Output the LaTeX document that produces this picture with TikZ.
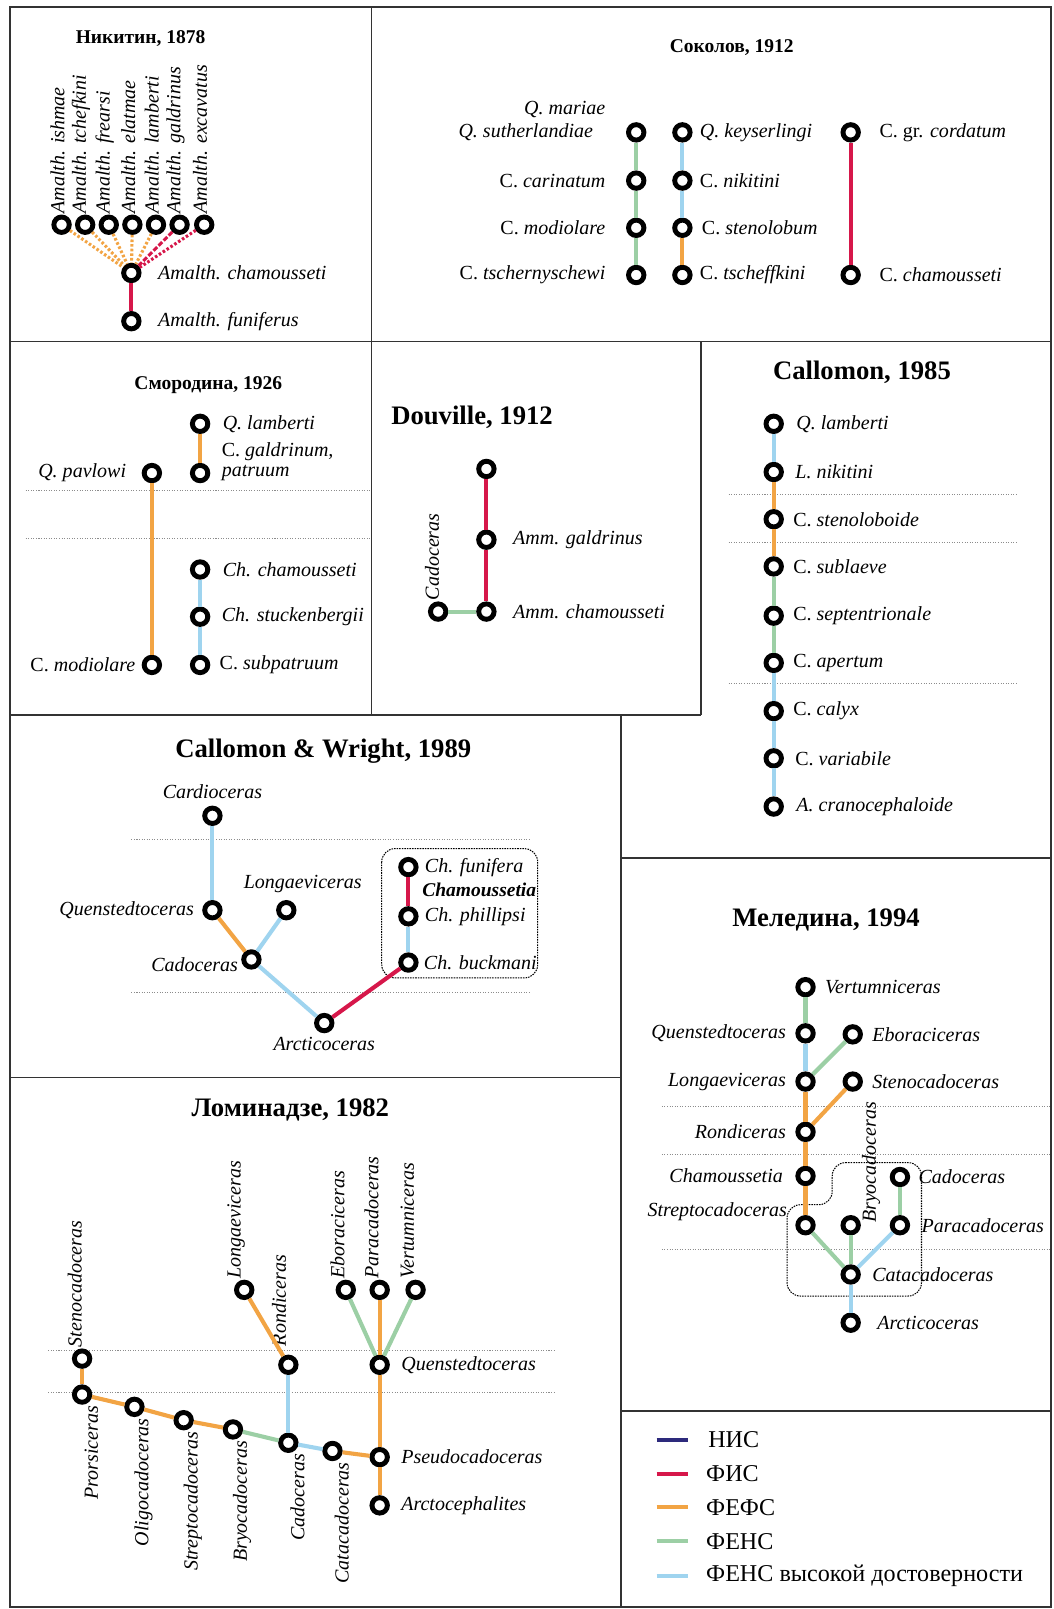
\documentclass[tikz,border=0pt]{standalone}
\usepackage{fontspec}
\setmainfont{Liberation Serif}
\definecolor{cnis}{HTML}{2D2A7C}
\definecolor{cfis}{HTML}{D6174A}
\definecolor{cfefs}{HTML}{F2A444}
\definecolor{cfens}{HTML}{9CCFA5}
\definecolor{cfensv}{HTML}{9FD4EF}
\begin{document}
\begin{tikzpicture}[x=1pt,y=-1pt,
  st/.style={circle,draw=black,line width=4.8pt,fill=white,minimum size=15pt,inner sep=0pt},
  lab/.style={font=\fontsize{19.5}{21}\selectfont\itshape,inner sep=1pt},
  every label/.style={lab},
  label distance=8pt,
  up/.style={rotate=90,anchor=west},
  dn/.style={rotate=90,anchor=east},
  title/.style={font=\fontsize{26}{29}\selectfont\bfseries},
  stitle/.style={font=\fontsize{19}{21}\selectfont\bfseries},
  nis/.style={draw=cnis,line width=4pt},
  fis/.style={draw=cfis,line width=4pt},
  fefs/.style={draw=cfefs,line width=4pt},
  fens/.style={draw=cfens,line width=4pt},
  fensv/.style={draw=cfensv,line width=4pt},
  frame/.style={draw=black!80,line width=1.5pt},
  sep/.style={draw=black!45,line width=0.8pt,dash pattern=on 1pt off 1.5pt},
  box/.style={draw=black,line width=1pt,dash pattern=on 1.5pt off 1pt,rounded corners=13pt}]

\useasboundingbox (0,0) rectangle (1027,1568);

\draw[frame] (10,7) rectangle (1024,1566);
\draw[frame] (362,7) -- (362,697);
\draw[frame] (10,333) -- (1024,333);
\draw[frame] (683,333) -- (683,697);
\draw[frame] (10,697) -- (683,697);
\draw[frame] (605,697) -- (605,1566);
\draw[frame] (605,836) -- (1024,836);
\draw[frame] (10,1050) -- (605,1050);
\draw[frame] (605,1375) -- (1024,1375);

\node[stitle] (nikt) at (137,38) {Никитин, 1878};
\foreach \x/\n/\t in {60/n1/ishmae,83/n2/tchefkini,106/n3/frearsi,129/n4/elatmae,152/n5/lamberti,175/n6/galdrinus,199/n7/excavatus}
  \node[st,label={[up,label distance=4pt]above:Amalth. \t}] (\n) at (\x,219) {};
\node[st,label={[label distance=15pt]right:Amalth. chamousseti}] (nch) at (128,266) {};
\node[st,label={[label distance=15pt]right:Amalth. funiferus}] (nfu) at (128,313) {};
\path (nch) edge[fis] (nfu);
\foreach \n in {n1,n2,n3,n4,n5}
  \path (\n) edge[fefs,line width=3pt,dash pattern=on 2.5pt off 2pt] (nch);
\path (n6) edge[fis,line width=3pt,dash pattern=on 5pt off 2pt] (nch)
      (n7) edge[fis,line width=3pt,dash pattern=on 2.5pt off 2pt] (nch);

\node[stitle] (sokt) at (713,46) {Соколов, 1912};
\node[st,label={[label distance=31pt]left:Q. sutherlandiae},label={[label distance=19pt,yshift=22pt]left:Q. mariae}] (s11) at (620,129) {};
\node[st,label={[label distance=19pt]left:\textup{C.} carinatum}] (s12) at (620,176) {};
\node[st,label={[label distance=19pt]left:\textup{C.} modiolare}] (s13) at (620,222) {};
\node[st,label={[label distance=19pt]left:\textup{C.} tschernyschewi}] (s14) at (620,268) {};
\node[st,label={[label distance=6pt]right:Q. keyserlingi}] (s21) at (665,129) {};
\node[st,label={[label distance=6pt]right:\textup{C.} nikitini}] (s22) at (665,176) {};
\node[st,label={[label distance=8pt]right:\textup{C.} stenolobum}] (s23) at (665,222) {};
\node[st,label={[label distance=6pt]right:\textup{C.} tscheffkini}] (s24) at (665,268) {};
\node[st,label={[label distance=17pt]right:\textup{C.} \textup{gr.} cordatum}] (s31) at (829,129) {};
\node[st,label={[label distance=17pt]right:\textup{C.} chamousseti}] (s34) at (829,268) {};
\path (s11) edge[fens] (s12)
      (s12) edge[fens] (s13)
      (s13) edge[fens] (s14)
      (s21) edge[fensv] (s22)
      (s22) edge[fensv] (s23)
      (s23) edge[fefs] (s24)
      (s31) edge[fis] (s34);

\node[stitle] (smot) at (203,375) {Смородина, 1926};
\draw[sep] (25,478) -- (362,478);
\draw[sep] (25,525) -- (362,525);
\node[st,label={[label distance=11pt]right:Q. lamberti}] (m1) at (195,413) {};
\node[st,label={[label distance=10pt]right:patruum},label={[label distance=10pt,yshift=21pt]right:\textup{C.} galdrinum,}] (m2) at (195,461) {};
\node[st,label={[label distance=14pt]left:Q. pavlowi}] (m3) at (148,461) {};
\node[st,label={[label distance=5pt]left:\textup{C.} modiolare}] (m4) at (148,648) {};
\node[st,label={[label distance=11pt]right:Ch. chamousseti}] (m5) at (195,555) {};
\node[st,label={[label distance=10pt]right:Ch. stuckenbergii}] (m6) at (195,601) {};
\node[st,label={[label distance=8pt]right:\textup{C.} subpatruum}] (m7) at (195,648) {};
\path (m1) edge[fefs] (m2)
      (m3) edge[fefs] (m4)
      (m5) edge[fensv] (m6)
      (m6) edge[fensv] (m7);

\node[title] (dout) at (460,407) {Douville, 1912};
\node[st] (d1) at (474,457) {};
\node[st,label={[label distance=15pt]right:Amm. galdrinus}] (d2) at (474,526) {};
\node[st,label={[label distance=15pt]right:Amm. chamousseti}] (d3) at (474,596) {};
\node[st,label={[up,label distance=6pt]above:Cadoceras}] (d4) at (427,596) {};
\path (d1) edge[fis] (d2)
      (d2) edge[fis] (d3)
      (d4) edge[fens] (d3);

\node[title] (calt) at (840,363) {Callomon, 1985};
\draw[sep] (710,482) -- (992,482);
\draw[sep] (710,529) -- (992,529);
\draw[sep] (710,666) -- (992,666);
\node[st,label={[label distance=11pt]right:Q. lamberti}] (c1) at (754,413) {};
\node[st,label={[label distance=10pt]right:L. nikitini}] (c2) at (754,460) {};
\node[st,label={right:\textup{C.} stenoloboide}] (c3) at (754,506) {};
\node[st,label={right:\textup{C.} sublaeve}] (c4) at (754,552) {};
\node[st,label={right:\textup{C.} septentrionale}] (c5) at (754,600) {};
\node[st,label={right:\textup{C.} apertum}] (c6) at (754,646) {};
\node[st,label={right:\textup{C.} calyx}] (c7) at (754,693) {};
\node[st,label={[label distance=10pt]right:\textup{C.} variabile}] (c8) at (754,739) {};
\node[st,label={[label distance=11pt]right:A. cranocephaloide}] (c9) at (754,786) {};
\path (c1) edge[fensv] (c2)
      (c2) edge[fefs] (c3)
      (c3) edge[fefs] (c4)
      (c4) edge[fens] (c5)
      (c5) edge[fens] (c6)
      (c6) edge[fensv] (c7)
      (c7) edge[fensv] (c8)
      (c8) edge[fensv] (c9);

\node[title] (cwt) at (315,732) {Callomon \& Wright, 1989};
\draw[sep] (128,818) -- (517,818);
\draw[sep] (128,967) -- (517,967);
\draw[box] (372,827) rectangle (524,953);
\node[st,label={[label distance=6pt]above:Cardioceras}] (w1) at (207,795) {};
\node[st,label={[label distance=7pt]left:Quenstedtoceras}] (w2) at (207,887) {};
\node[st,label={[label distance=6pt,xshift=16pt]above:Longaeviceras}] (w3) at (279,887) {};
\node[st,label={[label distance=2pt,yshift=-5pt]left:Cadoceras}] (w4) at (245,935) {};
\node[st,label={[label distance=3pt]below:Arcticoceras}] (w5) at (316,997) {};
\node[st,label={[label distance=5pt]right:Ch. funifera}] (w6) at (398,845) {};
\node[st,label={[label distance=5pt]right:Ch. phillipsi}] (w7) at (398,893) {};
\node[st,label={[label distance=4pt]right:Ch. buckmani}] (w8) at (398,938) {};
\node[lab,font=\fontsize{19}{21}\selectfont\bfseries\itshape] (wch) at (467,867) {Chamoussetia};
\path (w1) edge[fensv] (w2)
      (w2) edge[fefs] (w4)
      (w3) edge[fensv] (w4)
      (w4) edge[fensv] (w5)
      (w5) edge[fis] (w8)
      (w8) edge[fensv] (w7)
      (w7) edge[fis] (w6);

\node[title] (melt) at (805,897) {Меледина, 1994};
\draw[sep] (645,1078) -- (1024,1078);
\draw[sep] (645,1125) -- (1024,1125);
\draw[sep] (645,1218) -- (1024,1218);
\draw[box] (811,1133) -- (898,1133) -- (898,1263) -- (767,1263) -- (767,1174) -- (811,1174) -- cycle;
\node[st,label={right:Vertumniceras}] (e1) at (785,962) {};
\node[st,label={left:Quenstedtoceras}] (e2) at (785,1007) {};
\node[st,label={right:Eboraciceras}] (e3) at (831,1008) {};
\node[st,label={left:Longaeviceras}] (e4) at (785,1054) {};
\node[st,label={right:Stenocadoceras}] (e5) at (831,1054) {};
\node[st,label={left:Rondiceras}] (e6) at (785,1103) {};
\node[st,label={[label distance=11pt]left:Chamoussetia}] (e7) at (785,1146) {};
\node[st,label={[label distance=7pt,yshift=13pt]left:Streptocadoceras}] (e8) at (785,1194) {};
\node[st,label={[rotate=90,anchor=north west,label distance=1pt]right:Bryocadoceras}] (e9) at (829,1194) {};
\node[st,label={[label distance=7pt]right:Cadoceras}] (e10) at (877,1147) {};
\node[st,label={[label distance=10pt]right:Paracadoceras}] (e11) at (877,1194) {};
\node[st,label={[label distance=10pt]right:Catacadoceras}] (e12) at (829,1242) {};
\node[st,label={[label distance=15pt]right:Arcticoceras}] (e13) at (829,1289) {};
\path (e1) edge[fens] (e2)
      (e2) edge[fensv] (e4)
      (e4) edge[fens] (e3)
      (e4) edge[fefs] (e6)
      (e6) edge[fefs] (e5)
      (e6) edge[fefs] (e7)
      (e7) edge[fefs] (e8)
      (e8) edge[fens] (e12)
      (e9) edge[fens] (e12)
      (e11) edge[fensv] (e12)
      (e10) edge[fens] (e11)
      (e12) edge[fensv] (e13);

\node[title] (lomt) at (283,1082) {Ломинадзе, 1982};
\draw[sep] (47,1316) -- (540,1316);
\draw[sep] (47,1357) -- (540,1357);
\node[st,label={[up,label distance=7pt]above:Stenocadoceras}] (l1) at (80,1324) {};
\node[st,label={[dn,label distance=9pt]below:Prorsiceras}] (l2) at (80,1359) {};
\node[st,label={[dn,label distance=9pt]below:Oligocadoceras}] (l3) at (131,1371) {};
\node[st,label={[dn,label distance=9pt]below:Streptocadoceras}] (l4) at (179,1384) {};
\node[st,label={[dn,label distance=9pt]below:Bryocadoceras}] (l5) at (227,1393) {};
\node[st,label={[dn,label distance=9pt]below:Cadoceras}] (l6) at (281,1406) {};
\node[st,label={[dn,label distance=9pt]below:Catacadoceras}] (l7) at (324,1414) {};
\node[st,label={[label distance=10pt]right:Pseudocadoceras}] (l8) at (370,1420) {};
\node[st,label={[label distance=10pt]right:Arctocephalites}] (l9) at (370,1467) {};
\node[st,label={[label distance=10pt]right:Quenstedtoceras}] (l10) at (370,1330) {};
\node[st,label={[up,label distance=9pt,xshift=7pt]above:Rondiceras}] (l11) at (281,1330) {};
\node[st,label={[up,label distance=8pt]above:Longaeviceras}] (l12) at (238,1257) {};
\node[st,label={[up,label distance=8pt]above:Eboraciceras}] (l13) at (337,1257) {};
\node[st,label={[up,label distance=8pt]above:Paracadoceras}] (l14) at (370,1257) {};
\node[st,label={[up,label distance=8pt]above:Vertumniceras}] (l15) at (405,1257) {};
\path (l1) edge[fefs] (l2)
      (l2) edge[fefs] (l3)
      (l3) edge[fefs] (l4)
      (l4) edge[fefs] (l5)
      (l5) edge[fens] (l6)
      (l6) edge[fensv] (l7)
      (l7) edge[fefs] (l8)
      (l8) edge[fefs] (l9)
      (l8) edge[fefs] (l10)
      (l10) edge[fens] (l13)
      (l10) edge[fefs] (l14)
      (l10) edge[fens] (l15)
      (l6) edge[fensv] (l11)
      (l11) edge[fefs] (l12);

\draw[nis] (640,1403) -- (670,1403);
\draw[fis] (640,1436) -- (670,1436);
\draw[fefs] (640,1469) -- (670,1469);
\draw[fens] (640,1502) -- (670,1502);
\draw[fensv] (640,1536) -- (670,1536);
\begin{scope}[every node/.style={anchor=west,font=\fontsize{23.5}{26}\selectfont,inner sep=0pt}]
\node (g1) at (690,1403) {НИС};
\node (g2) at (688,1436) {ФИС};
\node (g3) at (688,1469) {ФЕФС};
\node (g4) at (688,1502) {ФЕНС};
\node (g5) at (688,1536) {ФЕНС высокой достоверности};
\end{scope}
\end{tikzpicture}
\end{document}
